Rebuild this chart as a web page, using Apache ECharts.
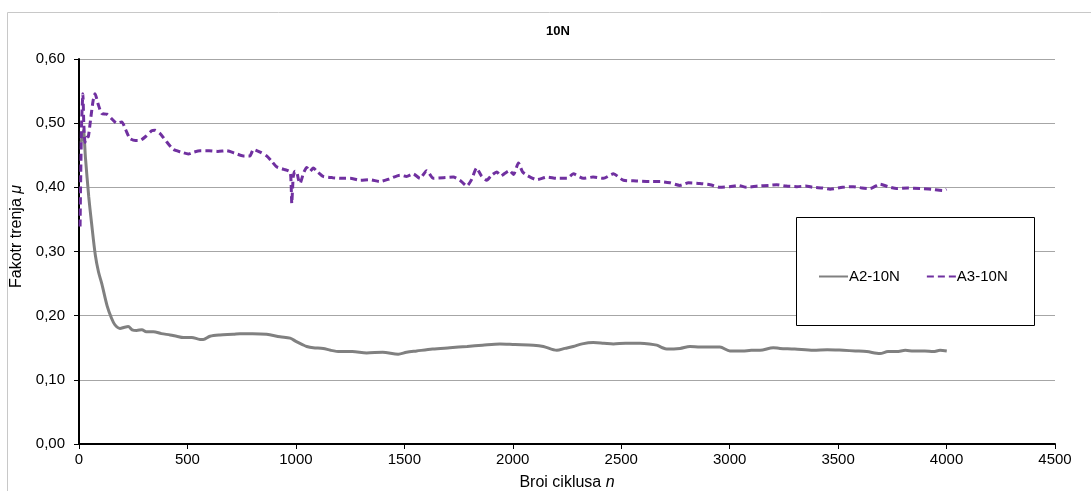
<!DOCTYPE html>
<html><head><meta charset="utf-8">
<script src="https://cdn.jsdelivr.net/npm/echarts@6/dist/echarts.min.js"></script>
<style>html,body{margin:0;padding:0;background:#fff}#c{width:1091px;height:491px}</style>
</head><body><div id="c"></div>
<script>
const titleText = '10N';
const seriesNames = ['A2-10N', 'A3-10N'];
const xTicks = {min: 0, max: 4500, interval: 500};
const yTicks = {min: 0, max: 0.6, interval: 0.1};
// A2-10N: [cycles, friction]
const a2 = [[10,0.47],[20,0.489],[30,0.445],[45,0.385],[58,0.344],[75,0.295],[90,0.268],[105,0.25],[130,0.215],[150,0.196],[165,0.186],[189,0.180],[210,0.182],[227,0.183],[245,0.178],[266,0.177],[290,0.178],[310,0.175],[343,0.175],[380,0.172],[420,0.170],[450,0.168],[481,0.166],[520,0.166],[558,0.163],[573,0.163],[604,0.168],[650,0.170],[711,0.171],[742,0.172],[800,0.172],[865,0.171],[927,0.167],[973,0.165],[1000,0.160],[1030,0.155],[1050,0.152],[1080,0.150],[1126,0.149],[1160,0.146],[1203,0.144],[1260,0.144],[1326,0.142],[1400,0.143],[1472,0.140],[1510,0.143],[1557,0.145],[1630,0.148],[1710,0.150],[1790,0.152],[1860,0.154],[1941,0.156],[2010,0.155],[2095,0.154],[2141,0.152],[2203,0.146],[2240,0.149],[2279,0.152],[2320,0.156],[2371,0.158],[2420,0.157],[2464,0.156],[2520,0.157],[2587,0.157],[2630,0.156],[2664,0.154],[2690,0.150],[2710,0.148],[2771,0.149],[2817,0.152],[2863,0.151],[2910,0.151],[2955,0.151],[3001,0.145],[3060,0.145],[3100,0.146],[3140,0.146],[3201,0.150],[3232,0.149],[3300,0.148],[3386,0.146],[3450,0.147],[3524,0.146],[3580,0.145],[3632,0.144],[3693,0.141],[3730,0.144],[3770,0.144],[3810,0.146],[3847,0.145],[3900,0.145],[3939,0.144],[3970,0.146],[4001,0.145]];
// A3-10N: [cycles, friction]
const a3 = [[5,0.339],[8,0.42],[12,0.50],[18,0.546],[22,0.50],[28,0.47],[35,0.478],[43,0.479],[55,0.51],[65,0.535],[74,0.546],[88,0.53],[105,0.515],[128,0.514],[150,0.507],[174,0.500],[197,0.502],[215,0.49],[235,0.476],[260,0.473],[281,0.473],[310,0.480],[335,0.488],[350,0.489],[373,0.484],[404,0.471],[435,0.459],[470,0.455],[504,0.452],[530,0.455],[558,0.457],[600,0.457],[640,0.456],[681,0.457],[720,0.453],[757,0.449],[788,0.449],[804,0.459],[835,0.455],[865,0.449],[890,0.440],[911,0.432],[945,0.428],[973,0.424],[978,0.405],[981,0.375],[985,0.400],[988,0.417],[996,0.425],[1004,0.424],[1012,0.412],[1019,0.406],[1035,0.422],[1050,0.431],[1065,0.425],[1080,0.430],[1100,0.424],[1126,0.417],[1170,0.415],[1219,0.414],[1250,0.414],[1296,0.411],[1340,0.412],[1388,0.409],[1430,0.413],[1480,0.419],[1510,0.417],[1541,0.421],[1572,0.414],[1603,0.426],[1634,0.414],[1680,0.415],[1726,0.416],[1760,0.410],[1788,0.402],[1810,0.412],[1833,0.430],[1855,0.418],[1880,0.411],[1900,0.418],[1926,0.424],[1945,0.418],[1960,0.421],[1985,0.426],[2003,0.420],[2026,0.438],[2045,0.424],[2064,0.419],[2110,0.412],[2160,0.416],[2203,0.414],[2250,0.414],[2279,0.421],[2325,0.414],[2370,0.416],[2418,0.414],[2464,0.421],[2510,0.411],[2570,0.410],[2633,0.409],[2680,0.409],[2725,0.407],[2771,0.403],[2810,0.407],[2863,0.406],[2910,0.404],[2955,0.400],[3000,0.401],[3040,0.403],[3078,0.400],[3130,0.402],[3180,0.403],[3217,0.404],[3260,0.402],[3310,0.401],[3350,0.402],[3386,0.400],[3430,0.399],[3463,0.397],[3520,0.400],[3570,0.401],[3610,0.399],[3647,0.398],[3693,0.405],[3730,0.401],[3770,0.398],[3820,0.399],[3878,0.398],[3930,0.397],[3985,0.395],[4000,0.397]];

const chart = echarts.init(document.getElementById('c'), null, {renderer: 'canvas'});
const fmtY = v => v.toFixed(2).replace('.', ',');
const fmtX = v => String(v);
const FONT = 'Liberation Sans, Arial';
chart.setOption({
  backgroundColor: '#fff',
  animation: false,
  title: {text: titleText, left: 553, top: 20, textAlign: 'center',
    textStyle: {fontFamily: FONT, fontSize: 13, fontWeight: 'bold', color: '#000'}},
  graphic: [
    {type: 'rect', z: -10, silent: true, shape: {x: 7.5, y: 12.5, width: 1100, height: 500}, style: {fill: 'none', stroke: '#c8c8c8', lineWidth: 1}},
    {type: 'rect', z: 5, silent: true, shape: {x: 796.5, y: 217.5, width: 238, height: 108}, style: {fill: '#fff', stroke: '#000', lineWidth: 1}}
  ],
  legend: {
    show: true, orient: 'horizontal', left: 813, top: 264, z: 10,
    itemWidth: 29, itemHeight: 14, itemGap: 26,
    itemStyle: {opacity: 0},
    textStyle: {fontFamily: FONT, fontSize: 15, color: '#000', padding: [0, 0, 0, -4]},
    data: seriesNames
  },
  grid: {left: 79, right: 36, top: 59, bottom: 47, containLabel: false, outerBoundsMode: 'none'},
  xAxis: {
    type: 'value', min: xTicks.min, max: xTicks.max, interval: xTicks.interval,
    name: '{n|Broi ciklusa }{i|n}', nameLocation: 'middle', nameGap: 31,
    nameTextStyle: {rich: {n: {fontFamily: FONT, fontSize: 16, color: '#000'}, i: {fontFamily: FONT, fontSize: 16, fontStyle: 'italic', color: '#000'}}},
    axisLine: {lineStyle: {color: '#000', width: 2}},
    axisTick: {show: true, length: 5, lineStyle: {color: '#000', width: 1}},
    axisLabel: {fontFamily: FONT, fontSize: 15, color: '#000', margin: 8, formatter: fmtX},
    splitLine: {show: false}
  },
  yAxis: {
    type: 'value', min: yTicks.min, max: yTicks.max, interval: yTicks.interval,
    name: '{n|Fakotr trenja }{i|μ}', nameLocation: 'middle', nameGap: 51, nameRotate: 90,
    nameTextStyle: {padding: [0, 0, 0, 30], rich: {n: {fontFamily: FONT, fontSize: 16, color: '#000'}, i: {fontFamily: FONT, fontSize: 16, fontStyle: 'italic', color: '#000'}}},
    axisLine: {show: true, lineStyle: {color: '#000', width: 2}},
    axisTick: {show: true, length: 5, lineStyle: {color: '#000', width: 1}},
    axisLabel: {fontFamily: FONT, fontSize: 15, color: '#000', margin: 14, formatter: fmtY},
    splitLine: {show: true, lineStyle: {color: '#a6a6a6', width: 1}}
  },
  series: [
    {name: seriesNames[0], type: 'line', data: a2, showSymbol: false, symbol: 'none', smooth: 0.3, z: 3,
     lineStyle: {color: '#808080', width: 3}, itemStyle: {color: '#808080'}},
    {name: seriesNames[1], type: 'line', data: a3, showSymbol: false, symbol: 'none', smooth: 0.2, z: 4,
     lineStyle: {color: '#7030A0', width: 3, type: [7, 4]}, itemStyle: {color: '#7030A0'}}
  ]
});
</script></body></html>
